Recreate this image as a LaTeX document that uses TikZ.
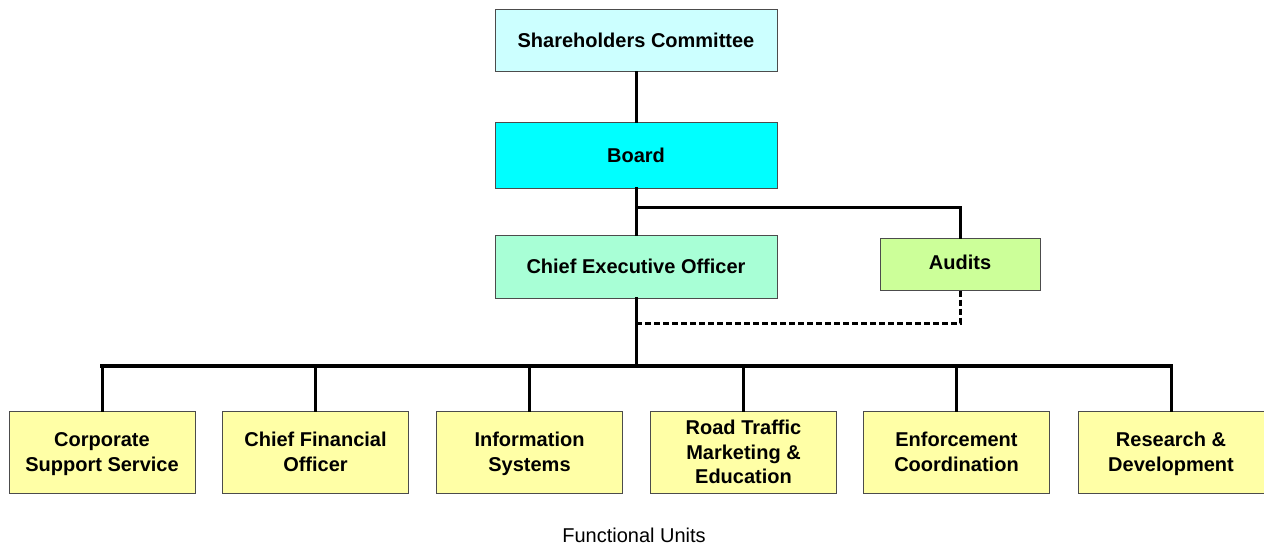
\documentclass[tikz,border=0pt]{standalone}
\usepackage{fontspec}
\setmainfont{Liberation Sans}
% one line of box text with fixed height and depth, so that every
% block is centred on its lines and not on its descenders
\newcommand\boxline[1]{\rule[-1.6pt]{0pt}{17.6pt}\smash{#1}}
\begin{document}
\begin{tikzpicture}[x=1pt,y=-1pt,
  box/.style={draw=black!70, line width=1pt, align=center, inner sep=0pt,
    font=\fontsize{20}{24.5}\selectfont\bfseries},
  topbox/.style={box, minimum width=282, minimum height=62},
  unitbox/.style={box, fill=unitfill, minimum width=186, minimum height=82},
  link/.style={line width=3pt, line cap=rect},
  buslink/.style={line width=4pt, line cap=rect},
  dotlink/.style={line width=3pt, dash pattern=on 6pt off 3pt}]
\definecolor{shfill}{HTML}{CCFFFF}
\definecolor{boardfill}{HTML}{00FFFF}
\definecolor{ceofill}{HTML}{A8FFD6}
\definecolor{auditfill}{HTML}{CCFF99}
\definecolor{unitfill}{HTML}{FFFFA6}
\useasboundingbox (0,0) rectangle (1264,544);

% governance chain
\node[topbox, fill=shfill] (sh) at (636,40.5) {\boxline{Shareholders Committee}};
\node[topbox, fill=boardfill, minimum height=66] (board) at (636,155) {\boxline{Board}};
\node[topbox, fill=ceofill, minimum height=63] (ceo) at (636,266.5) {\boxline{Chief Executive Officer}};
\node[box, fill=auditfill, minimum width=160, minimum height=52] (audits) at (960,264) {\boxline{\raisebox{2pt}{Audits}}};

% functional units
\node[unitbox] (u1) at (102,452) {\boxline{Corporate}\\\boxline{Support Service}};
\node[unitbox] (u2) at (315.5,452) {\boxline{Chief Financial}\\\boxline{Officer}};
\node[unitbox] (u3) at (529.5,452) {\boxline{Information}\\\boxline{Systems}};
\node[unitbox] (u4) at (743.5,452) {\boxline{Road Traffic}\\\boxline{Marketing \&}\\\boxline{Education}};
\node[unitbox] (u5) at (956.5,452) {\boxline{Enforcement}\\\boxline{Coordination}};
\node[unitbox] (u6) at (1171,452) {\boxline{Research \&}\\\boxline{Development}};

\node[font=\fontsize{20}{24}\selectfont] (fu) at (634,535) {Functional Units};

% junction points
\coordinate (ba) at (636,207);
\coordinate (dj) at (636,323);
\coordinate (bus) at (636,366);

% connectors
\draw[link] (sh.south) -- (board.north);
\draw[link] (board.south) -- (ceo.north);
\draw[link] (ba) -| (audits.north);
\draw[dotlink] (audits.south) |- (dj);
\draw[link] (ceo.south) -- (bus);
\draw[buslink] (u1.north |- bus) -- (u6.north |- bus);
\foreach \u in {u1,u2,u3,u4,u5,u6}
  \draw[link] (\u.north |- bus) -- (\u.north);
\end{tikzpicture}
\end{document}
